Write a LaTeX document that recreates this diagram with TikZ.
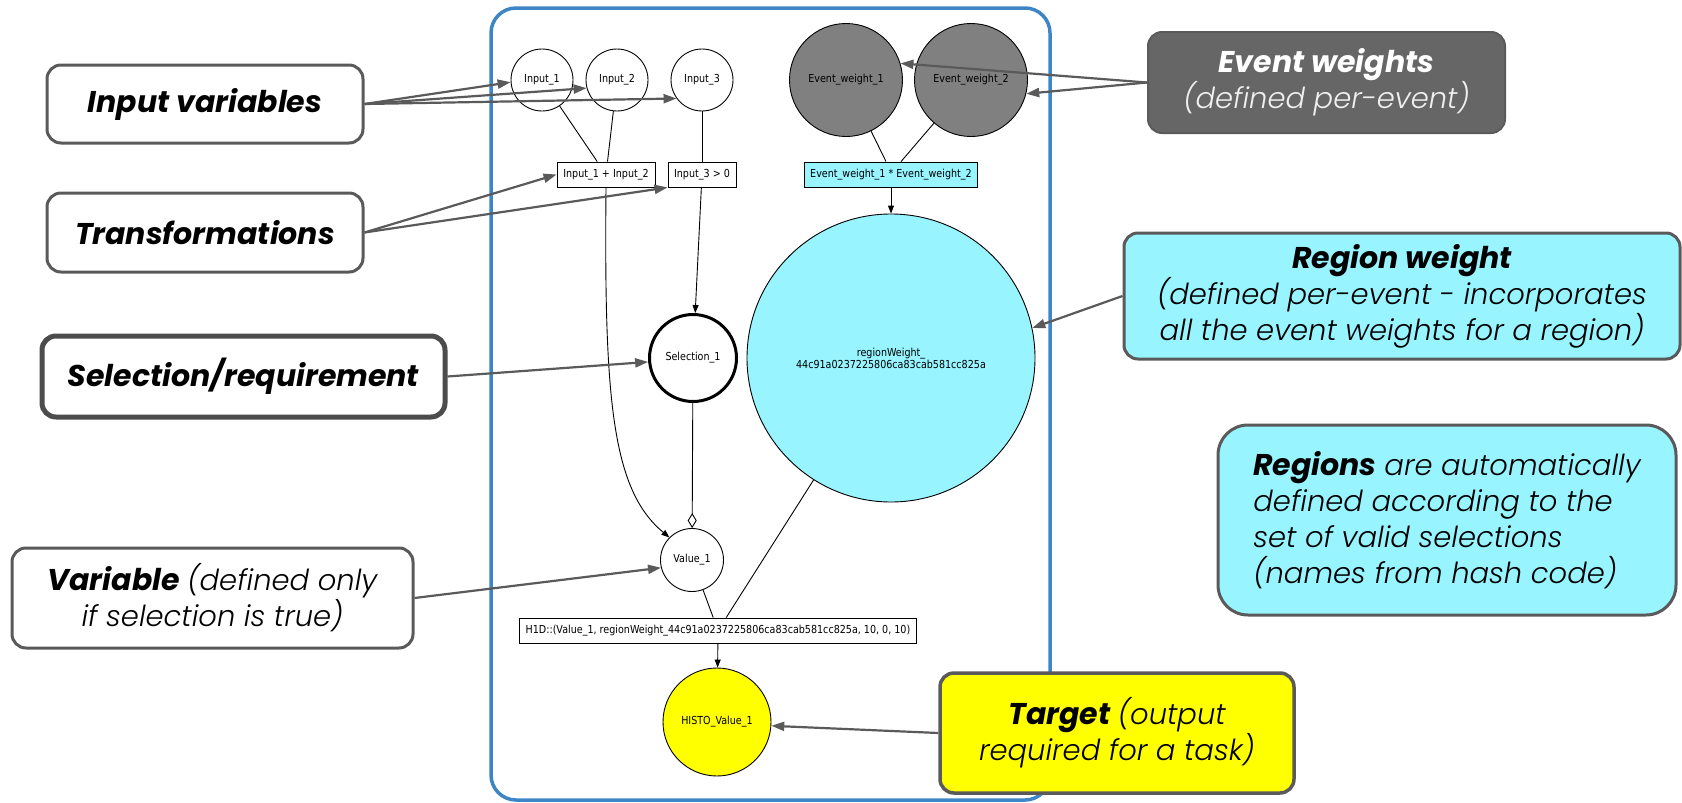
\documentclass[tikz,border=0pt]{standalone}
\usepackage{fontspec}
\setmainfont{Poppins}
\newfontfamily\lightfont{Poppins}[UprightFont=* Light, ItalicFont=* Light Italic]
\newfontfamily\gvfont[FakeStretch=0.87]{DejaVu Sans}
\usetikzlibrary{arrows.meta,calc}

\definecolor{framebl}{HTML}{3D85C6}
\definecolor{cyanfill}{HTML}{98F5FF}
\definecolor{ewfill}{HTML}{808080}
\definecolor{boxline}{HTML}{5A5A5A}
\definecolor{ewbox}{HTML}{666666}
\definecolor{ewtext}{HTML}{F0F0F0}
\definecolor{histofill}{HTML}{FFFF00}

% bold italic headline words and light italic explanations
\newcommand{\bfit}[1]{{\fontsize{30}{36}\selectfont\bfseries\itshape #1}}
\newcommand{\ltit}[1]{{\lightfont\itshape #1}}

\tikzset{
  gfont/.style={font=\gvfont\fontsize{11}{10.5}\selectfont},
  gcirc/.style={circle, draw=black, line width=0.9, inner sep=0pt, gfont},
  grect/.style={rectangle, draw=black, line width=0.9, inner sep=0pt, minimum height=25, gfont},
  gedge/.style={draw=black, line width=0.9},
  garrow/.style={gedge, -{Triangle[length=8pt,width=6pt]}},
  gdiamond/.style={gedge, -{Diamond[open,length=15pt,width=9pt]}},
  frame/.style={rectangle, rounded corners=25, draw=framebl, line width=3.5, inner sep=0pt},
  note/.style={rectangle, rounded corners=14, draw=boxline, line width=3, fill=white,
    inner sep=0pt, align=center, font=\fontsize{29}{36}\selectfont},
  callout/.style={draw=boxline, line width=2.2, -{Triangle[length=13pt,width=9pt]}},
}

\begin{document}
\begin{tikzpicture}[x=1pt, y=-1pt]
\path[use as bounding box] (0,0) rectangle (1682,803);

% container of the task graph
\node[frame, minimum width=559, minimum height=792] (frame) at (770.5,404) {};

% graph nodes
\node[gcirc, minimum size=62] (in1) at (542,80) {Input\_1};
\node[gcirc, minimum size=62] (in2) at (617,80) {Input\_2};
\node[gcirc, minimum size=62] (in3) at (702,80) {Input\_3};
\node[gcirc, minimum size=113, fill=ewfill] (ew1) at (846,80) {Event\_weight\_1};
\node[gcirc, minimum size=113, fill=ewfill] (ew2) at (971,80) {Event\_weight\_2};

\node[grect, minimum width=98] (plus) at (606,174.5) {Input\_1 + Input\_2};
\node[grect, minimum width=68] (gt) at (702,174.5) {Input\_3 > 0};
\node[grect, minimum width=173, fill=cyanfill] (ewprod) at (891,174.5) {Event\_weight\_1 * Event\_weight\_2};

\node[gcirc, minimum size=288, fill=cyanfill, align=center] (rw) at (891,358)
  {regionWeight\_\\44c91a0237225806ca83cab581cc825a};
\node[gcirc, minimum size=87, line width=3] (sel) at (693,358) {Selection\_1};
\node[gcirc, minimum size=63] (val) at (692,560) {Value\_1};

\node[grect, minimum width=397] (h1d) at (718,630.5)
  {H1D::(Value\_1, regionWeight\_44c91a0237225806ca83cab581cc825a, 10, 0, 10)};
\node[gcirc, minimum size=108, fill=histofill] (histo) at (717,722) {HISTO\_Value\_1};

% graph edges
\draw[gedge] (in1) -- (plus);
\draw[gedge] (in2) -- (plus);
\draw[gedge] (in3) -- (gt);
\draw[gedge] (ew1) -- ($(ewprod.north)+(-5,0)$);
\draw[gedge] (ew2) -- ($(ewprod.north)+(10,0)$);
\draw[garrow] (ewprod) -- (rw);
\draw[garrow] (gt) -- (sel);
\draw[garrow] (plus.south) .. controls (604,400) and (612,490) .. (val.135);
\draw[gdiamond] (sel) -- (val);
\draw[gedge] (rw) -- (h1d);
\draw[gedge] (val) -- (h1d);
\draw[garrow] (h1d) -- (histo);

% explanatory boxes
\node[note, minimum width=316, minimum height=78] (iv) at (205,104) {\bfit{Input variables}};
\node[note, minimum width=316, minimum height=79] (tr) at (205,232.5) {\bfit{Transformations}};
\node[note, minimum width=403, minimum height=81, line width=5, draw=boxline!85!black] (sr) at (243.5,376.5)
  {\bfit{Selection/requirement}};
\node[note, minimum width=401, minimum height=100] (vb) at (212.5,598)
  {\bfit{Variable} \ltit{(defined only}\\\ltit{if selection is true)}};
\node[note, minimum width=357, minimum height=101, fill=ewbox, line width=2, text=white] (ewb) at (1326.5,82.5)
  {\bfit{Event weights}\\\textcolor{ewtext}{\ltit{(defined per-event)}}};
\node[note, minimum width=556, minimum height=126, fill=cyanfill] (rwb) at (1402,296)
  {\bfit{Region weight}\\\ltit{(defined per-event - incorporates}\\\ltit{all the event weights for a region)}};
\node[note, minimum width=458, minimum height=190, fill=cyanfill, align=left, rounded corners=30] (rgb) at (1447,520)
  {\bfit{Regions} \ltit{are automatically}\\\ltit{defined according to the}\\\ltit{set of valid selections}\\\ltit{(names from hash code)}};
\node[note, minimum width=354, minimum height=120, fill=histofill, line width=3.5] (tgb) at (1117,733)
  {\bfit{Target} \ltit{(output}\\\ltit{required for a task)}};

% pointers from the boxes to the graph
\draw[callout] (iv.east) -- (in1.184);
\draw[callout] (iv.east) -- (in2.195);
\draw[callout] (iv.east) -- (in3.216);
\draw[callout] (tr.east) -- (plus.west);
\draw[callout] (tr.east) -- (gt.south west);
\draw[callout] (sr.east) -- (sel.185);
\draw[callout] (vb.east) -- (val.194);
\draw[callout] (ewb.west) -- (ew1.17);
\draw[callout] (ewb.west) -- (ew2.-14);
\draw[callout] (rwb.west) -- (rw.12);
\draw[callout] (tgb.west) -- (histo.-4);
\end{tikzpicture}
\end{document}
